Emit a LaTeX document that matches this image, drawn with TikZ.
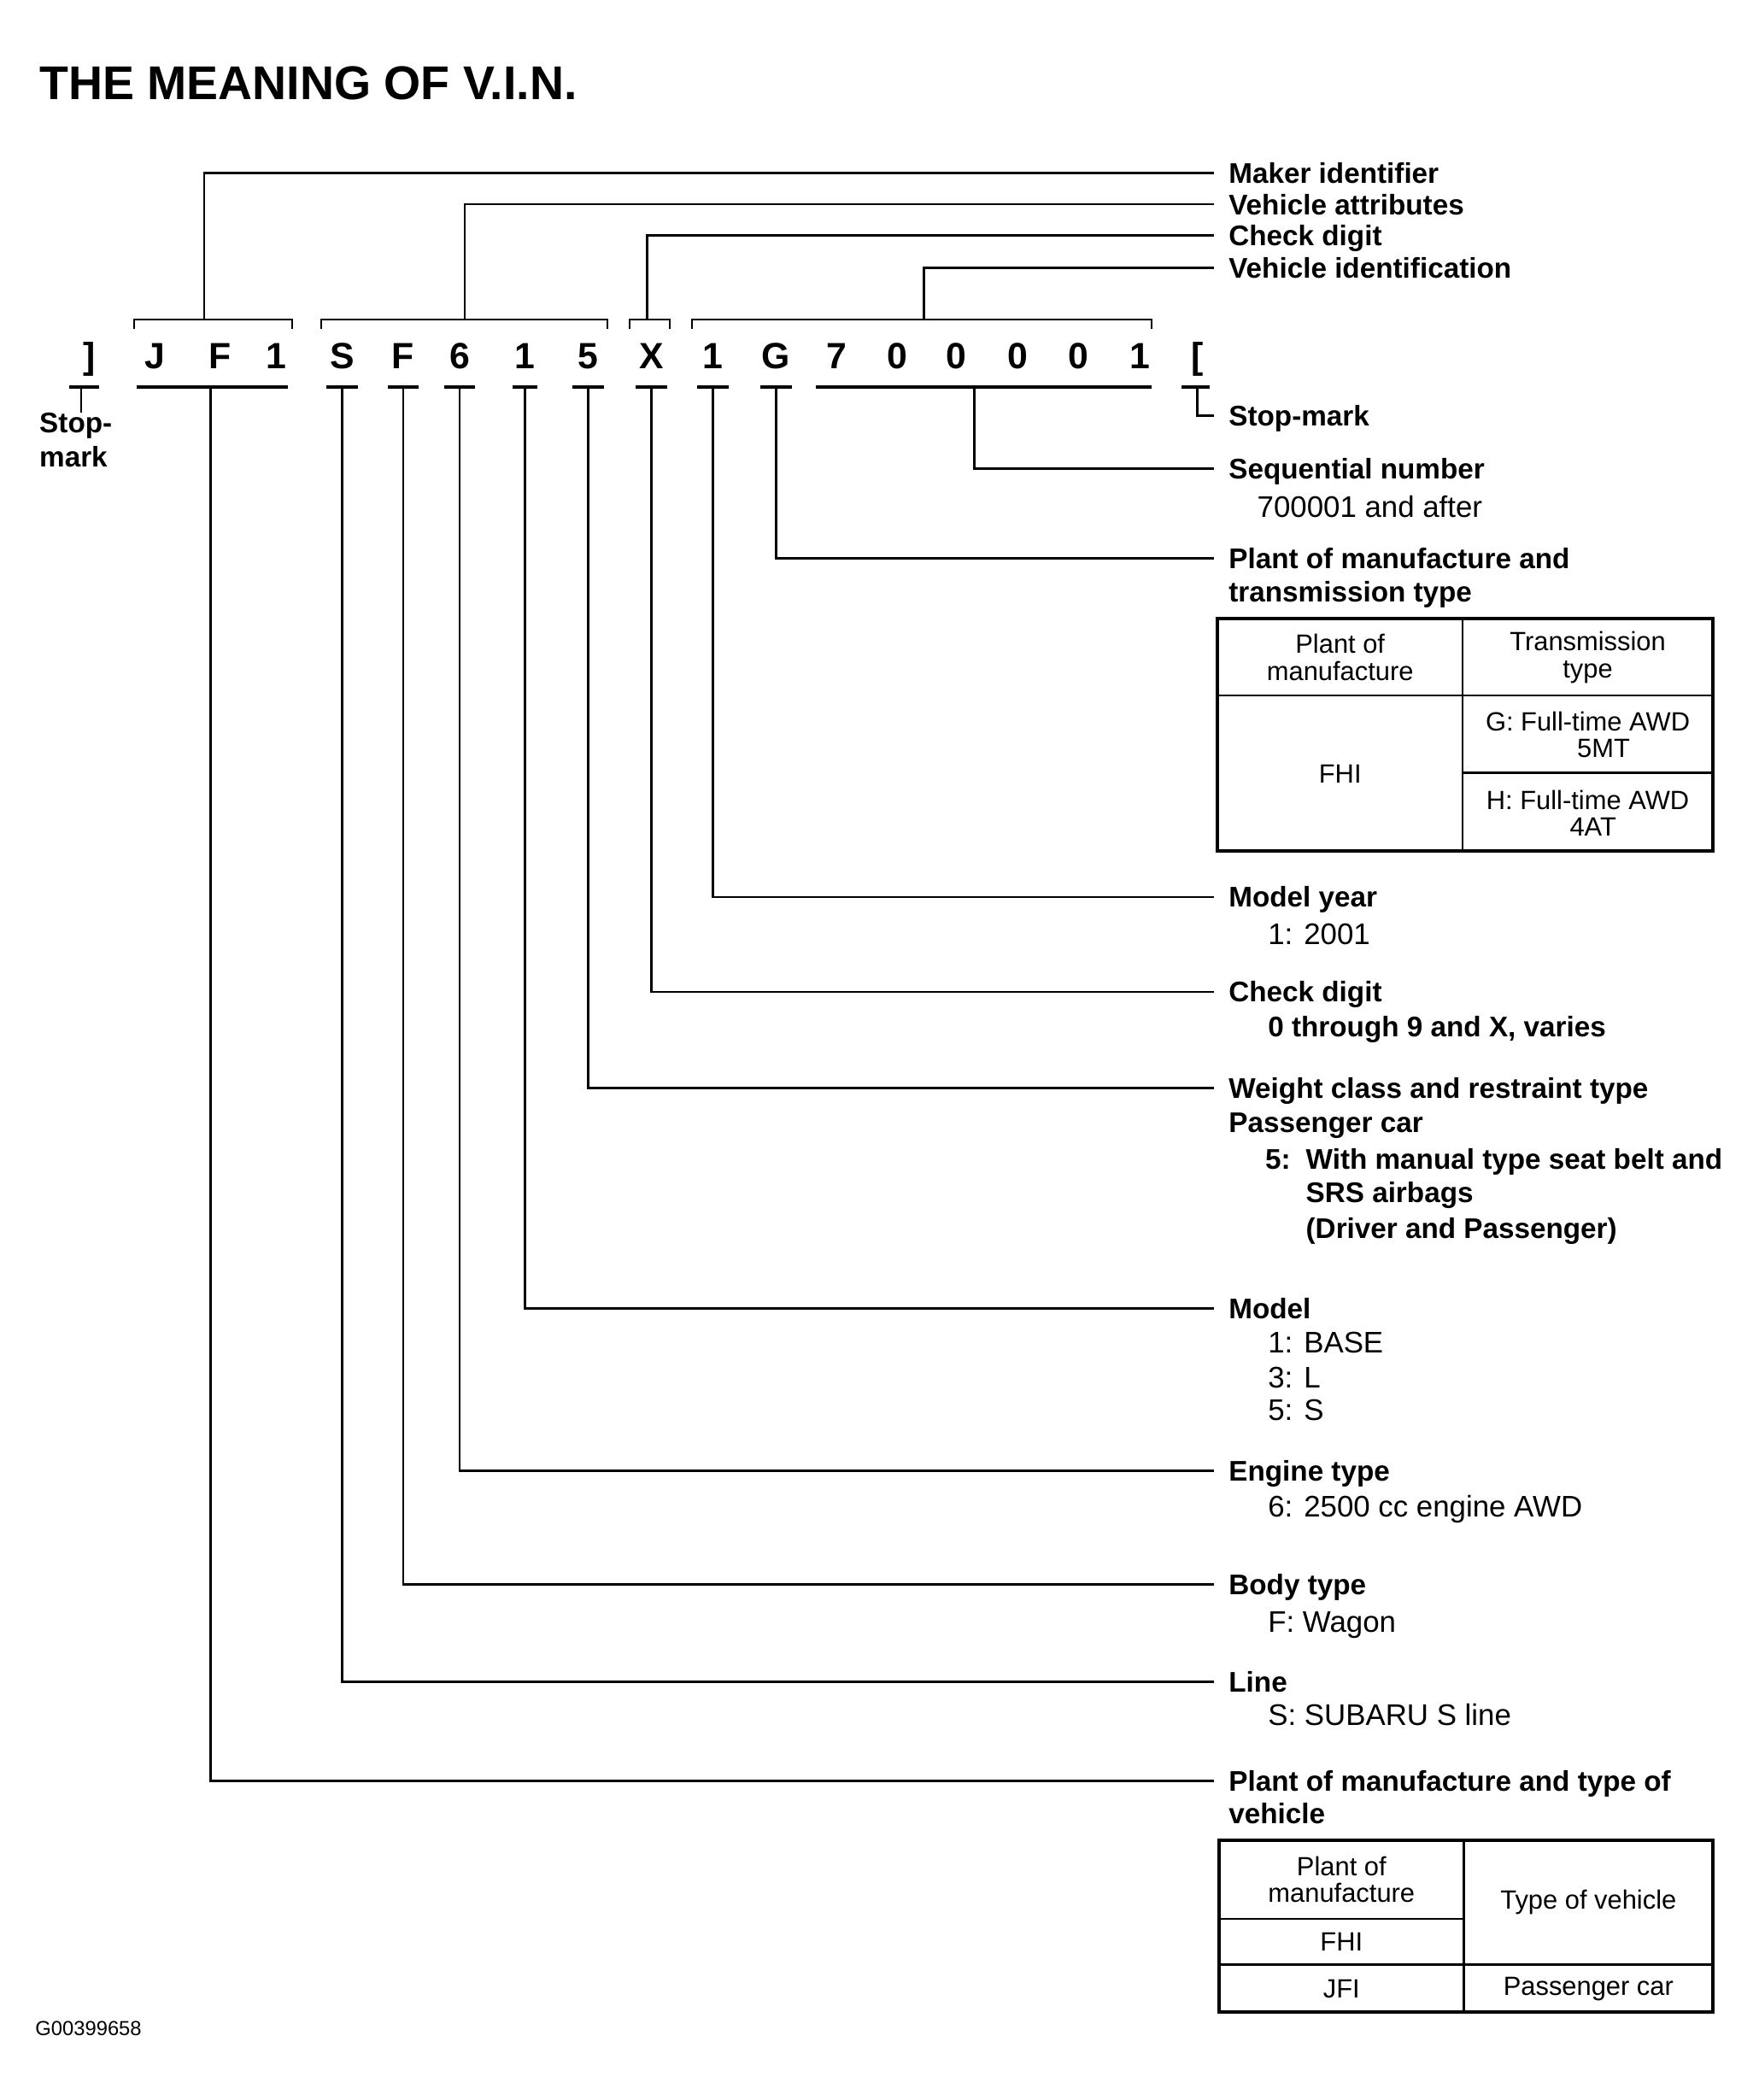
\documentclass[tikz,border=0pt]{standalone}
\usepackage{fontspec}
\setmainfont{Liberation Sans}
\usetikzlibrary{positioning}

\newcommand\vinfont{\fontsize{27}{30}\selectfont\bfseries}
\newcommand\labfont{\fontsize{21}{25.5}\selectfont\bfseries}
\newcommand\detfont{\fontsize{22}{26}\selectfont}
\newcommand\tabfont{\fontsize{19.5}{20}\selectfont}

\tikzset{
  vin/.style={anchor=base, inner sep=0pt, text depth=13.5pt, font=\vinfont},
  lab/.style={anchor=west, inner xsep=11pt, inner ysep=0pt, text height=15pt, text depth=0pt, font=\labfont},
  det/.style={anchor=base west, inner sep=0pt, font=\detfont},
  detb/.style={anchor=base west, inner sep=0pt, font=\labfont},
  cell/.style={align=center, inner sep=0pt, font=\tabfont},
  conn/.style={line width=1.7pt},
  under/.style={line width=2.3pt},
  brk/.style={line width=1.3pt},
  tabout/.style={line width=2.6pt},
  tabin/.style={line width=1.5pt}
}

\begin{document}
\begin{tikzpicture}[x=1pt, y=-1pt]
\useasboundingbox (0,0) rectangle (1300,1552);

\node[anchor=base west, inner sep=0pt, font=\fontsize{35}{40}\selectfont\bfseries] (title) at (29,73.4) {THE MEANING OF V.I.N.};

% the code itself
\node[vin] (sL) at (66,272.5) {]};
\node[vin] (p1) at (114.3,272.5) {J};
\node[vin] (p2) at (162.7,272.5) {F};
\node[vin] (p3) at (204.5,272.5) {1};
\node[vin] (p4) at (252.8,272.5) {S};
\node[vin] (p5) at (298,272.5) {F};
\node[vin] (p6) at (339.7,272.5) {6};
\node[vin] (p7) at (388.1,272.5) {1};
\node[vin] (p8) at (434.8,272.5) {5};
\node[vin] (p9) at (481.5,272.5) {X};
\node[vin] (p10) at (527,272.5) {1};
\node[vin] (p11) at (573.5,272.5) {G};
\node[vin] (p12) at (618.5,272.5) {7};
\node[vin] (p13) at (663,272.5) {0};
\node[vin] (p14) at (706.5,272.5) {0};
\node[vin] (p15) at (752,272.5) {0};
\node[vin] (p16) at (797,272.5) {0};
\node[vin] (p17) at (842.5,272.5) {1};
\node[vin] (sR) at (885,272.5) {[};

% brackets over the groups
\draw[brk] (99,243) -- (99,236) -- (216,236) -- (216,243);
\draw[brk] (237.5,243) -- (237.5,236) -- (449,236) -- (449,243);
\draw[brk] (465.5,243) -- (465.5,236) -- (495,236) -- (495,243);
\draw[brk] (511.5,243) -- (511.5,236) -- (851,236) -- (851,243);
\coordinate (tJF) at (151,236);
\coordinate (tSF) at (343.5,236);
\coordinate (tX) at (478.5,236);
\coordinate (tSeq) at (683,236);

% underlines
\coordinate (uJF) at (155.6,286);
\coordinate (uSeq) at (720.3,286);
\coordinate (uStop) at (60,286);
\draw[under] (51,286) -- (73.5,286);
\draw[under] (100.8,286) -- (212.6,286);
\draw[under] (602.8,286) -- (851,286);
\draw[under] ([xshift=-11.5pt]p4.south) -- ([xshift=11.5pt]p4.south);
\draw[under] ([xshift=-11.5pt]p5.south) -- ([xshift=11.5pt]p5.south);
\draw[under] ([xshift=-11.5pt]p6.south) -- ([xshift=11.5pt]p6.south);
\draw[under] ([xshift=-9pt]p7.south) -- ([xshift=9pt]p7.south);
\draw[under] ([xshift=-11.5pt]p8.south) -- ([xshift=11.5pt]p8.south);
\draw[under] ([xshift=-11.5pt]p9.south) -- ([xshift=11.5pt]p9.south);
\draw[under] ([xshift=-11.5pt]p10.south) -- ([xshift=11.5pt]p10.south);
\draw[under] ([xshift=-11.5pt]p11.south) -- ([xshift=11.5pt]p11.south);
\draw[under] ([xshift=-11.5pt]sR.south) -- ([xshift=9pt]sR.south);

% left stop-mark
\node[anchor=north west, align=left, inner sep=0pt, font=\labfont] (lStopL) at (29,305) {Stop-\\mark};
\draw[conn] (uStop) -- (uStop |- lStopL.north);

% labels on the right
\node[lab] (lMaker) at (897,128) {Maker identifier};
\node[lab] (lAttr) at (897,151) {Vehicle attributes};
\node[lab] (lChkT) at (897,174) {Check digit};
\node[lab] (lVid) at (897,198) {Vehicle identification};
\node[lab] (lStop) at (897,307) {Stop-mark};
\node[lab] (lSeq) at (897,346.5) {Sequential number};
\node[det] (dSeq) at (929,382) {700001 and after};
\node[lab] (lPlantT) at (897,412.5) {Plant of manufacture and};
\node[detb] (dPlantT) at (908,445) {transmission type};
\node[lab] (lYear) at (897,663) {Model year};
\node[det] (dYear) at (937,698) {1: 2001};
\node[lab] (lChk) at (897,733) {Check digit};
\node[detb] (dChk) at (937,766) {0 through 9 and X, varies};
\node[lab] (lWeight) at (897,804) {Weight class and restraint type};
\node[detb] (dWeight) at (908,837) {Passenger car};
\node[detb] (dWeight5) at (935,864) {\makebox[30pt][l]{5:}With manual type seat belt and};
\node[detb] (dWeightS) at (965,889) {SRS airbags};
\node[detb] (dWeightD) at (965,915) {(Driver and Passenger)};
\node[lab] (lModel) at (897,967) {Model};
\node[det] (dModel1) at (937,1000) {1: BASE};
\node[det] (dModel3) at (937,1026) {3: L};
\node[det] (dModel5) at (937,1050) {5: S};
\node[lab] (lEngine) at (897,1087) {Engine type};
\node[det] (dEngine) at (937,1121) {6: 2500 cc engine AWD};
\node[lab] (lBody) at (897,1171) {Body type};
\node[det] (dBody) at (937,1206) {F: Wagon};
\node[lab] (lLine) at (897,1243) {Line};
\node[det] (dLine) at (937,1275) {S: SUBARU S line};
\node[lab] (lPlantV) at (897,1316) {Plant of manufacture and type of};
\node[detb] (dPlantV) at (908,1348) {vehicle};

% connectors
\draw[conn] (tJF) |- (lMaker.west);
\draw[conn] (tSF) |- (lAttr.west);
\draw[conn] (tX) |- (lChkT.west);
\draw[conn] (tSeq) |- (lVid.west);
\draw[conn] (sR.south) |- (lStop.west);
\draw[conn] (uSeq) |- (lSeq.west);
\draw[conn] (p11.south) |- (lPlantT.west);
\draw[conn] (p10.south) |- (lYear.west);
\draw[conn] (p9.south) |- (lChk.west);
\draw[conn] (p8.south) |- (lWeight.west);
\draw[conn] (p7.south) |- (lModel.west);
\draw[conn] (p6.south) |- (lEngine.west);
\draw[conn] (p5.south) |- (lBody.west);
\draw[conn] (p4.south) |- (lLine.west);
\draw[conn] (uJF) |- (lPlantV.west);

% table: plant and transmission
\draw[tabin] (1081,457) -- (1081,629);
\draw[tabin] (900,514) -- (1266,514);
\draw[tabin] (1081,571) -- (1266,571);
\draw[tabout] (900,457) rectangle (1266,629);
\node[cell] (tPlant) at (990.5,486) {Plant of\\manufacture};
\node[cell] (tTrans) at (1173.5,486) {Transmission\\type};
\node[cell] (tFHI) at (990.5,572) {FHI};
\node[cell] (tG) at (1173.5,543) {G: Full-time AWD\\\hspace*{1.2em}5MT};
\node[cell] (tH) at (1173.5,601) {H: Full-time AWD\\\hspace*{0.4em}4AT};

% table: plant and vehicle
\draw[tabin] (1082,1360) -- (1082,1487);
\draw[tabin] (901,1418) -- (1082,1418);
\draw[tabin] (901,1452) -- (1266,1452);
\draw[tabout] (901,1360) rectangle (1266,1487);
\node[cell] (vPlant) at (991.5,1389) {Plant of\\manufacture};
\node[cell] (vFHI) at (991.5,1435) {FHI};
\node[cell] (vJFI) at (991.5,1470) {JFI};
\node[cell] (vType) at (1174,1406) {Type of vehicle};
\node[cell] (vCar) at (1174,1470) {Passenger car};

\node[anchor=base west, inner sep=0pt, font=\fontsize{15}{18}\selectfont] (code) at (26,1504) {G00399658};
\end{tikzpicture}
\end{document}
